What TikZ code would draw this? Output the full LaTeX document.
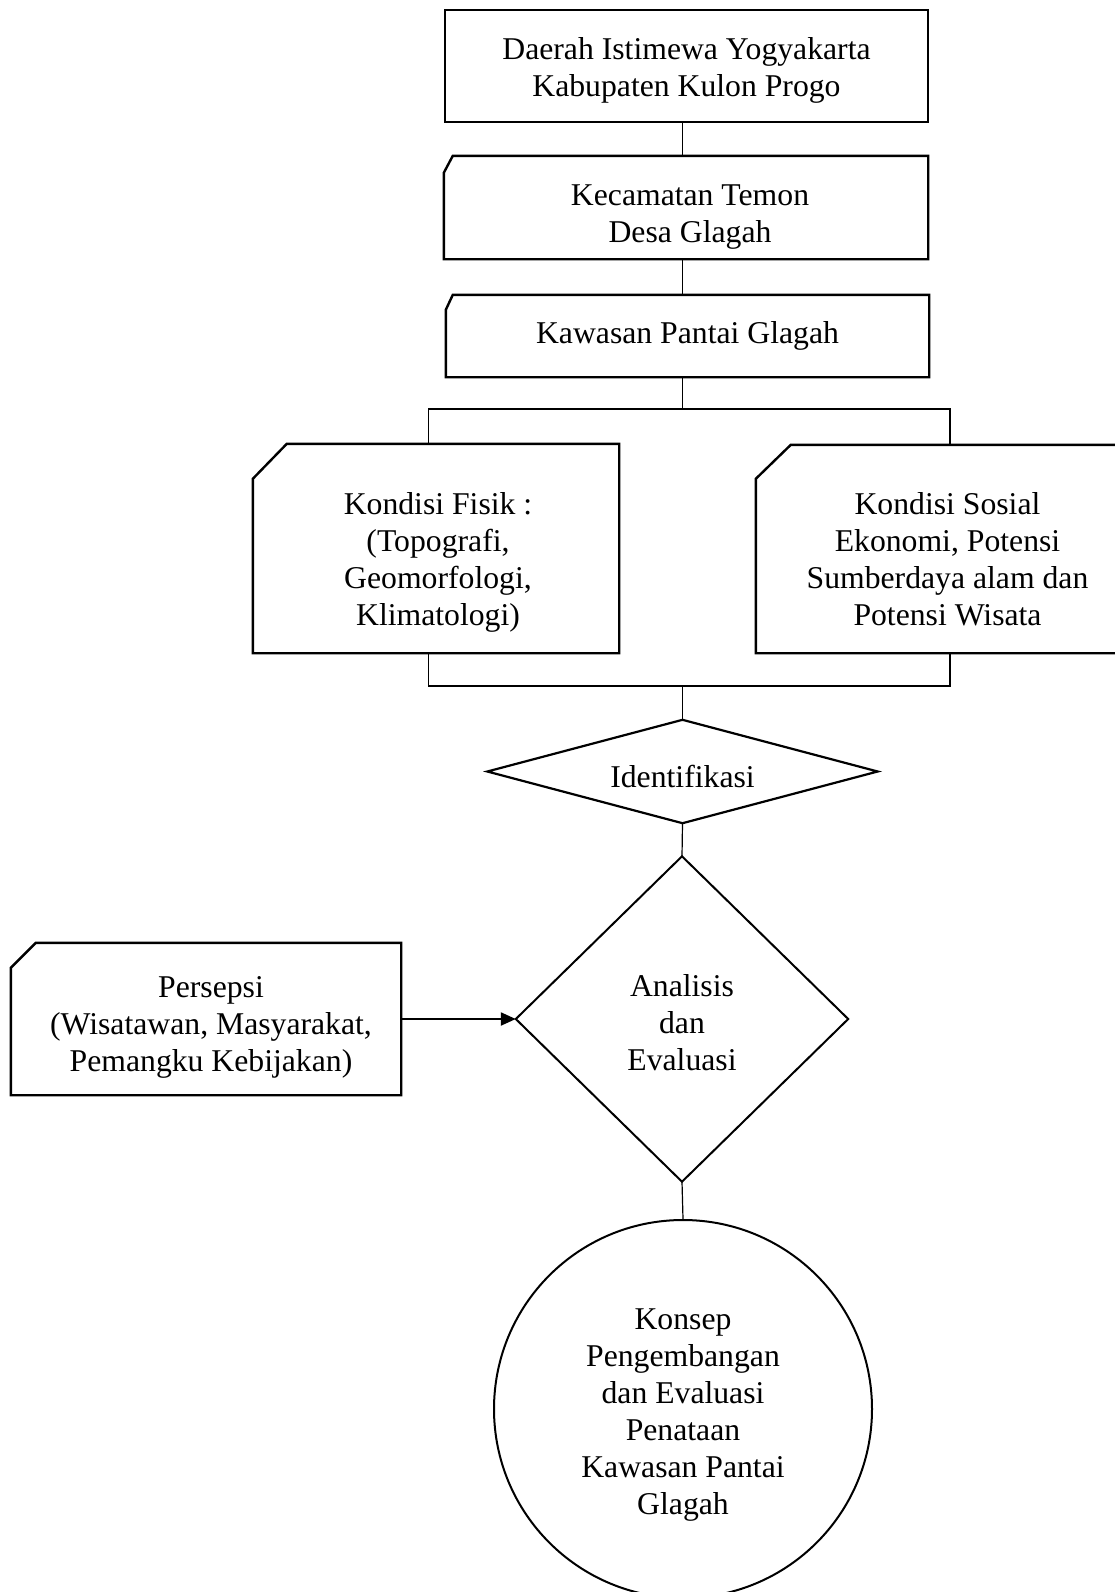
\documentclass[tikz,border=0pt]{standalone}
\usepackage{fontspec}
\setmainfont{Liberation Serif}
\usetikzlibrary{arrows.meta,calc}
\begin{document}
\begin{tikzpicture}[x=1pt,y=-1pt,
  txt/.style={font=\fontsize{31.7}{37}\selectfont, align=center, inner sep=0pt},
  shp/.style={inner sep=0pt},
  frame/.style={line width=2.4pt, line join=miter},
  conn/.style={line width=1.2pt},
  arr/.style={line width=2.2pt, -{Triangle[length=15pt,width=13pt]}}
]
\useasboundingbox (0,0) rectangle (1115,1592);
\clip (0,0) rectangle (1115,1592);
\fill[white] (0,0) rectangle (1115,1592);

% shape nodes
\node[shp, minimum width=483pt, minimum height=112pt] (n1) at (686.5,66) {};
\node[shp, minimum width=484pt, minimum height=103pt] (n2) at (686,207.5) {};
\node[shp, minimum width=483pt, minimum height=82pt] (n3) at (687.5,336) {};
\node[shp, minimum width=366pt, minimum height=209pt] (n4) at (436,548.5) {};
\node[shp, minimum width=369pt, minimum height=208pt] (n5) at (940.5,549) {};
\node[shp, minimum width=390pt, minimum height=103pt] (id) at (682.5,771.5) {};
\node[shp, minimum width=332pt, minimum height=325pt] (an) at (682,1019) {};
\node[shp, minimum width=390pt, minimum height=152pt] (per) at (206,1019) {};
\node[shp, circle, draw, line width=2pt, minimum size=378pt] (con) at (683,1409) {};

% texts
\node[txt] (t1) at ([yshift=-4.5pt]n1.center) {Daerah Istimewa Yogyakarta\\Kabupaten Kulon Progo};
\node[txt] (t2) at ([xshift=4pt,yshift=-10pt]n2.center) {Kecamatan Temon\\Desa Glagah};
\node[txt] (t3) at (n3.center) {Kawasan Pantai Glagah};
\node[txt] (t4) at ([xshift=2pt,yshift=-14pt]n4.center) {Kondisi Fisik :\\(Topografi,\\Geomorfologi,\\Klimatologi)};
\node[txt] (t5) at ([xshift=7pt,yshift=-10pt]n5.center) {Kondisi Sosial\\Ekonomi, Potensi\\Sumberdaya alam dan\\Potensi Wisata};
\node[txt] (tid) at ([yshift=-5pt]id.center) {Identifikasi};
\node[txt] (tan) at ([yshift=-4pt]an.center) {Analisis\\dan\\Evaluasi};
\node[txt] (tper) at ([xshift=5pt,yshift=-8pt]per.center) {Persepsi\\(Wisatawan, Masyarakat,\\Pemangku Kebijakan)};
\node[txt] (tcon) at ([yshift=-6pt]con.center) {Konsep\\Pengembangan\\dan Evaluasi\\Penataan\\Kawasan Pantai\\Glagah};

% frames
\draw[frame] (n1.north west) rectangle (n1.south east);
\draw[frame] ([xshift=9pt]n2.north west) -- (n2.north east) -- (n2.south east) -- (n2.south west) -- ([yshift=-17pt]n2.north west) -- cycle;
\draw[frame] ([xshift=7pt]n3.north west) -- (n3.north east) -- (n3.south east) -- (n3.south west) -- ([yshift=-15pt]n3.north west) -- cycle;
\draw[frame] ([xshift=34pt]n4.north west) -- (n4.north east) -- (n4.south east) -- (n4.south west) -- ([yshift=-35pt]n4.north west) -- cycle;
\draw[frame] ([xshift=35pt]n5.north west) -- (n5.north east) -- (n5.south east) -- (n5.south west) -- ([yshift=-34pt]n5.north west) -- cycle;
\draw[frame] ([xshift=25pt]per.north west) -- (per.north east) -- (per.south east) -- (per.south west) -- ([yshift=-25pt]per.north west) -- cycle;
\draw[frame, line width=2.2pt] (id.north) -- (id.east) -- (id.south) -- (id.west) -- cycle;
\draw[frame, line width=2pt] (an.north) -- (an.east) -- (an.south) -- (an.west) -- cycle;

% connectors
\coordinate (ax) at (682.5,0);
\coordinate (tl) at (428.6,409);
\coordinate (tr) at (950,409);
\coordinate (bl) at (428.6,686);
\coordinate (br) at (950,686);
\draw[conn] (n1.south -| ax) -- (n2.north -| ax);
\draw[conn] (n2.south -| ax) -- (n3.north -| ax);
\draw[conn] (n3.south -| ax) -- (ax |- tl);
\draw[conn] (n4.north -| tl) -- (tl) -- (tr) -- (n5.north -| tr);
\draw[conn] (n4.south -| bl) -- (bl) -- (br) -- (n5.south -| br);
\draw[conn] (ax |- bl) -- (id.north);
\draw[conn] (id.south) -- (an.north);
\draw[arr] (per.east) -- (an.west);
\draw[conn] (an.south) -- (con.north);
\end{tikzpicture}
\end{document}
